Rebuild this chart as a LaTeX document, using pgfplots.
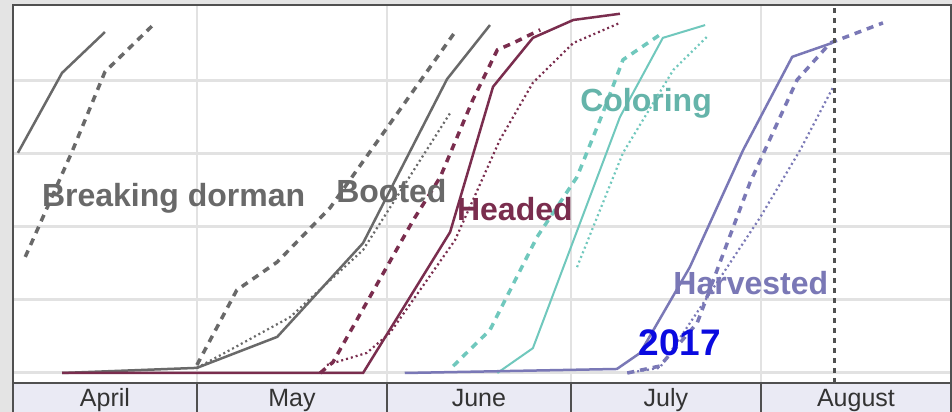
\documentclass[border=0pt]{standalone}
\usepackage{fontspec}
\setmainfont{Liberation Sans}
\usepackage{pgfplots}
\pgfplotsset{compat=1.18}
\definecolor{outergray}{RGB}{228,228,228}
\definecolor{framegray}{RGB}{80,80,80}
\definecolor{gridgray}{RGB}{226,226,226}
\definecolor{rowfill}{RGB}{234,234,244}
\definecolor{stgray}{RGB}{105,105,105}
\definecolor{stmaroon}{RGB}{122,45,78}
\definecolor{stteal}{RGB}{112,200,189}
\definecolor{stlav}{RGB}{122,120,182}
\definecolor{yrblue}{RGB}{10,10,224}

\tikzset{
  cur/.style={line width=2.5bp},
  avg/.style={line width=3.5bp, dash pattern=on 7bp off 6bp},
  old/.style={line width=2.2bp, dash pattern=on 2bp off 3bp},
  lab/.style={font=\fontsize{32bp}{36bp}\selectfont\bfseries, anchor=base west, inner sep=0pt},
  mon/.style={font=\fontsize{25bp}{28bp}\selectfont, text=black!80, anchor=base, inner sep=0pt}
}

\begin{document}
\begin{tikzpicture}
\fill[outergray] (-13bp,-29bp) rectangle (939bp,383bp);
\begin{axis}[
  at={(0,0)}, anchor=south west,
  width=938bp, height=378bp, scale only axis,
  xmin=0, xmax=153, ymin=-2.74, ymax=100.8,
  xtick={30,61,91,122}, ytick={0,20,40,60,80},
  xticklabels={}, yticklabels={},
  major tick length=0pt,
  grid=major,
  major x grid style={draw=gridgray, line width=1.5bp},
  major y grid style={draw=gridgray, line width=3bp},
  axis line style={draw=framegray, line width=2.5bp},
  axis background/.style={fill=white},
  clip=false
]
% Breaking dormancy
\addplot[stgray, cur] coordinates {(0.8,60.3) (8.0,82.2) (15.0,93.4)};
\addplot[stgray, avg] coordinates {(2.0,31.8) (9.6,60.5) (15.0,82.5) (23.2,95.9)};
% Booted
\addplot[stgray, cur] coordinates {(8.0,0) (30.0,1.4) (43.1,9.9) (57.1,35.6) (70.8,80.5) (77.8,95.3)};
\addplot[stgray, avg] coordinates {(30.0,2.2) (36.5,22.7) (43.1,30.4) (51.7,45.2) (63.1,72.1) (72.1,93.4)};
\addplot[stgray, old] coordinates {(30.0,1.4) (35.4,6.3) (45.2,15.3) (57.1,33.7) (71.3,71.2)};
% Headed
\addplot[stmaroon, avg] coordinates {(50.1,0) (52.2,3.0) (65.3,41.9) (69.7,53.7) (75.0,74.8) (79.0,88.5) (81.6,90.4) (86.0,94.0)};
\addplot[stmaroon, old] coordinates {(51.2,2.2) (57.7,5.5) (61.5,11.0) (72.1,36.4) (79.4,63.8) (84.8,79.5) (91.4,90.4) (99.0,95.9)};
\addplot[stmaroon, cur] coordinates {(8.0,0) (57.1,0) (71.3,38.6) (78.3,78.4) (84.8,91.8) (91.4,96.7) (99.0,98.4)};
% Coloring
\addplot[stteal, avg] coordinates {(71.8,1.9) (77.8,11.8) (85.5,37.3) (92.0,53.7) (96.2,71.2) (99.5,85.8) (106.0,93.2)};
\addplot[stteal, old] coordinates {(92.0,29.0) (99.5,60.3) (107.7,83.0) (113.2,92.1)};
\addplot[stteal, line width=2bp] coordinates {(79.0,0) (84.8,6.8) (99.0,70.1) (106.0,91.8) (112.9,95.3)};
% Harvested
\addplot[stlav, avg] coordinates {(100.2,0) (105.5,1.9) (111.6,13.7) (120.2,52.1) (127.9,80.3) (133.3,90.4) (141.9,95.9)};
\addplot[stlav, old] coordinates {(100.2,0) (105.5,1.4) (113.7,21.9) (121.9,42.7) (128.4,61.1) (133.8,78.4)};
\addplot[stlav, cur] coordinates {(63.9,0) (98.5,1.1) (102.3,5.5) (110.4,29.0) (119.1,61.1) (127.1,86.6) (133.6,90.4)};

% current date marker
\draw[framegray, line width=3bp, dash pattern=on 5bp off 5bp] (axis cs:134,-2.74) -- (axis cs:134,100.8);

% stage labels
\node[lab, text=stgray] at (axis cs:4.7,45.5) {Breaking dorman};
\node[lab, text=stgray] at (axis cs:52.7,46.6) {Booted};
\node[lab, text=stmaroon] at (axis cs:72.4,41.9) {Headed};
\node[lab, text=stteal!90!black] at (axis cs:92.5,71.5) {Coloring};
\node[lab, text=stlav] at (axis cs:107.7,21.4) {Harvested};
\node[lab, text=yrblue, font=\fontsize{37bp}{40bp}\selectfont\bfseries] at (axis cs:102.0,4.9) {2017};

% month row
\fill[rowfill] (axis cs:0,-2.74) rectangle (axis cs:153,-12);
\draw[framegray, line width=2.5bp] (axis cs:0,-2.74) -- (axis cs:0,-12);
\draw[framegray, line width=2.5bp] (axis cs:30,-2.74) -- (axis cs:30,-12);
\draw[framegray, line width=2.5bp] (axis cs:61,-2.74) -- (axis cs:61,-12);
\draw[framegray, line width=2.5bp] (axis cs:91,-2.74) -- (axis cs:91,-12);
\draw[framegray, line width=2.5bp] (axis cs:122,-2.74) -- (axis cs:122,-12);
\draw[framegray, line width=2.5bp] (axis cs:153,-2.74) -- (axis cs:153,-12);
\draw[framegray, line width=2.5bp] (axis cs:0,-2.74) -- (axis cs:153,-2.74);
\node[mon] at (axis cs:15,-9.3) {April};
\node[mon] at (axis cs:45.5,-9.3) {May};
\node[mon] at (axis cs:76,-9.3) {June};
\node[mon] at (axis cs:106.5,-9.3) {July};
\node[mon] at (axis cs:137.5,-9.3) {August};
\end{axis}
\pgfresetboundingbox
\path[use as bounding box] (-13bp,-29bp) rectangle (939bp,383bp);
\end{tikzpicture}
\end{document}
